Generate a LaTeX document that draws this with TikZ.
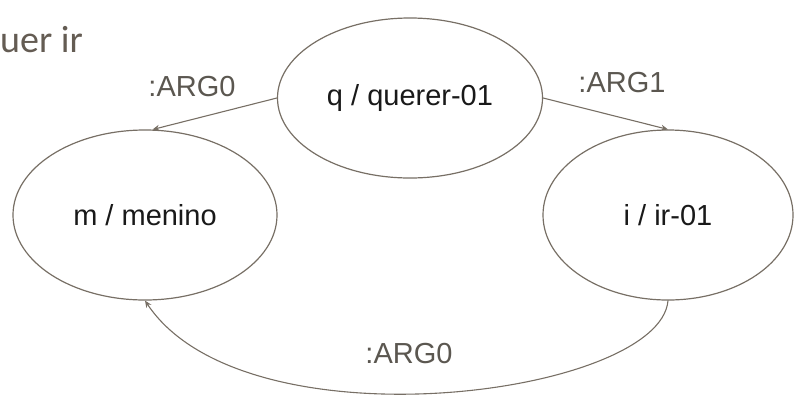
\documentclass[tikz,border=0pt]{standalone}
\usepackage{fontspec}
\setmainfont{Liberation Sans}
\newfontfamily\slidefont{Carlito}
\usetikzlibrary{shapes.geometric,arrows.meta}
\definecolor{linegray}{HTML}{776F65}
\definecolor{labelgray}{HTML}{5B5750}
\definecolor{titlegray}{HTML}{645C53}
\begin{document}
\begin{tikzpicture}[x=1pt,y=-1pt,line join=round,line cap=round,>={Stealth[length=7pt,width=6pt]},
	concept/.style={draw=linegray,line width=1.2pt,ellipse,inner sep=0pt,font=\fontsize{29}{34}\selectfont,text=black!90},
	role/.style={font=\fontsize{29}{34}\selectfont,text=labelgray},
	rel/.style={draw=linegray,line width=1.1pt,->}]
	\useasboundingbox (0,0) rectangle (794,397);
	% slide title
	\node[anchor=base west,inner sep=0pt,text=titlegray,font=\slidefont\fontsize{38}{46}\selectfont] (title) at (0,52) {uer ir};
	% concepts
	\node[concept,minimum width=265pt,minimum height=160pt] (q) at (410,98) {q / querer-01};
	\node[concept,minimum width=264pt,minimum height=170pt] (m) at (145,215) {m / menino};
	\node[concept,minimum width=250pt,minimum height=170pt] (i) at (668,215) {i / ir-01};
	% roles
	\node[role] (r0) at (192,87) {:ARG0};
	\node[role] (r1) at (622,83) {:ARG1};
	\node[role] (r2) at (409,354) {:ARG0};
	\draw[rel] (q.west) -- (m.85);
	\draw[rel] (q.east) -- (i.north);
	\draw[rel] (i.south) .. controls +(-8,95) and +(100,150) .. (m.south);
\end{tikzpicture}
\end{document}
